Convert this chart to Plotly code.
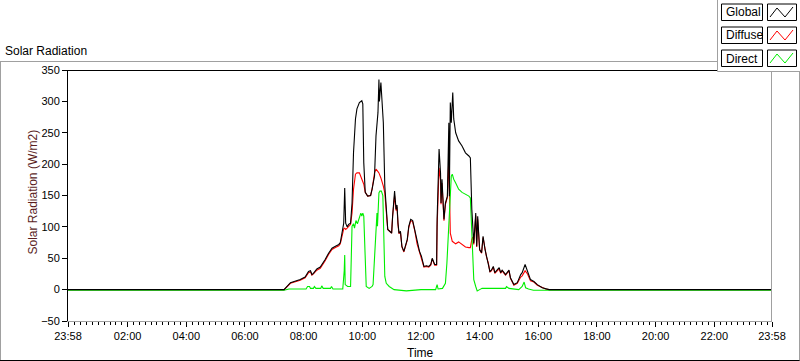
import plotly.graph_objects as go

DAY = "2024-01-02"
RANGE_START = "2024-01-01 23:58"
RANGE_END = "2024-01-02 23:58"

# ---------------- data (W/m2) ----------------
global_time = ["07:20", "07:33", "07:43", "07:53", "08:03", "08:10", "08:14", "08:17", "08:20", "08:27",
               "08:34", "08:41", "08:44", "08:51", "08:58", "09:05", "09:12", "09:15", "09:22", "09:24",
               "09:26", "09:29", "09:32", "09:36", "09:39", "09:42", "09:46", "09:49", "09:54", "09:59",
               "10:01", "10:03", "10:06", "10:11", "10:17", "10:20", "10:25", "10:28", "10:32", "10:34",
               "10:35", "10:38", "10:41", "10:43", "10:46", "10:49", "10:52", "10:56", "11:00", "11:02",
               "11:06", "11:09", "11:11", "11:13", "11:15", "11:18", "11:21", "11:25", "11:28", "11:32",
               "11:35", "11:39", "11:43", "11:47", "11:52", "11:57", "12:01", "12:06", "12:11", "12:16",
               "12:20", "12:23", "12:28", "12:32", "12:33", "12:37", "12:40", "12:41", "12:43", "12:47",
               "12:50", "12:54", "12:57", "12:58", "13:00", "13:02", "13:05", "13:07", "13:11", "13:17",
               "13:24", "13:31", "13:38", "13:41", "13:44", "13:46", "13:48", "13:52", "13:54", "13:56",
               "14:00", "14:04", "14:07", "14:11", "14:14", "14:18", "14:21", "14:24", "14:28", "14:31",
               "14:36", "14:40", "14:43", "14:46", "14:50", "14:53", "15:00", "15:03", "15:10", "15:17",
               "15:24", "15:27", "15:33", "15:38", "15:44", "15:51", "15:58", "16:08", "16:15", "16:22"]
global_value = [0, 11, 13, 16, 20, 29, 30, 24, 26, 33,
                36, 44, 48, 58, 66, 69, 72, 75, 106, 162,
                106, 100, 104, 106, 138, 218, 272, 288, 298, 301,
                296, 202, 155, 149, 150, 160, 181, 245, 282, 335,
                300, 330, 298, 266, 165, 128, 96, 93, 90, 117,
                157, 128, 135, 106, 90, 93, 69, 61, 69, 80,
                101, 112, 110, 96, 74, 61, 53, 37, 38, 37,
                40, 50, 40, 40, 112, 224, 186, 138, 176, 112,
                138, 149, 266, 149, 298, 266, 314, 272, 250, 237,
                229, 218, 213, 210, 128, 85, 74, 122, 69, 117,
                64, 59, 85, 64, 53, 43, 29, 31, 37, 27,
                31, 35, 27, 31, 27, 24, 31, 19, 8, 11,
                24, 27, 40, 29, 16, 13, 8, 3, 1, 0]

diffuse_time = ["07:20", "07:33", "07:43", "07:53", "08:03", "08:10", "08:14", "08:17", "08:20", "08:27",
                "08:34", "08:41", "08:44", "08:51", "08:58", "09:05", "09:12", "09:15", "09:22", "09:24",
                "09:26", "09:29", "09:32", "09:36", "09:39", "09:42", "09:46", "09:49", "09:54", "09:59",
                "10:01", "10:03", "10:06", "10:11", "10:17", "10:20", "10:25", "10:28", "10:32", "10:34",
                "10:38", "10:41", "10:43", "10:46", "10:49", "10:52", "10:56", "11:00", "11:02",
                "11:06", "11:09", "11:11", "11:13", "11:15", "11:18", "11:21", "11:25", "11:28", "11:32",
                "11:35", "11:39", "11:43", "11:47", "11:52", "11:57", "12:01", "12:06", "12:11", "12:16",
                "12:20", "12:23", "12:28", "12:32", "12:33", "12:37", "12:40", "12:41", "12:43", "12:47",
                "12:50", "12:54", "12:57", "12:58", "13:00", "13:04", "13:11", "13:17", "13:24", "13:31",
                "13:38", "13:41", "13:44", "13:46", "13:48", "13:52", "13:54", "13:56",
                "14:00", "14:04", "14:07", "14:11", "14:14", "14:18", "14:21", "14:24", "14:28", "14:31",
                "14:36", "14:40", "14:43", "14:46", "14:50", "14:53", "15:00", "15:03", "15:10", "15:17",
                "15:24", "15:27", "15:33", "15:38", "15:44", "15:51", "15:58", "16:08", "16:15", "16:22"]
diffuse_value = [0, 10, 12, 15, 19, 27, 28, 23, 25, 31,
                 34, 42, 46, 56, 64, 67, 70, 73, 97, 98,
                 96, 98, 100, 104, 122, 160, 184, 186, 186, 176,
                 172, 168, 155, 149, 150, 160, 186, 192, 188, 186,
                 178, 172, 165, 154, 128, 96, 93, 90, 117,
                 150, 126, 132, 104, 89, 92, 68, 60, 68, 79,
                 99, 110, 108, 95, 73, 60, 52, 36, 37, 36,
                 39, 49, 39, 39, 100, 194, 175, 136, 170, 110,
                 136, 147, 210, 139, 90, 77, 73, 76, 72, 68,
                 67, 67, 80, 84, 72, 118, 68, 112,
                 63, 58, 83, 63, 52, 42, 28, 30, 36, 26,
                 30, 33, 26, 30, 26, 23, 30, 18, 7, 10,
                 20, 22, 30, 25, 14, 12, 7, 3, 1, 0]

direct_time = ["07:20", "07:30", "08:05", "08:08", "08:12", "08:14", "08:20", "08:22", "08:25", "08:35",
               "08:37", "08:40", "08:55", "08:57", "09:00", "09:20", "09:23", "09:24", "09:25", "09:30",
               "09:36", "09:39", "09:42", "09:44", "09:47", "09:50", "09:54", "09:57", "09:59", "10:01",
               "10:03", "10:06", "10:08", "10:14", "10:20", "10:22", "10:25", "10:28", "10:30", "10:31",
               "10:34", "10:36", "10:39", "10:42", "10:44", "10:46", "10:49", "10:55", "11:05", "11:30",
               "12:00", "12:30", "12:33", "12:35", "12:44", "12:50", "12:53", "12:55", "12:58", "13:00",
               "13:02", "13:04", "13:07", "13:11", "13:17", "13:24", "13:31", "13:38", "13:41", "13:44",
               "13:46", "13:48", "13:52", "13:55", "14:00", "14:05", "14:53", "14:55", "15:00", "15:20",
               "15:27", "15:31", "15:34", "15:40", "15:50"]
direct_value = [-1, 1, 1, 5, 5, 2, 2, 5, 2, 2,
                6, 2, 2, 5, 1, 1, 30, 55, 8, 5,
                5, 101, 105, 98, 110, 105, 117, 122, 117, 122,
                117, 43, 5, 2, 5, 8, 48, 75, 122, 101,
                154, 157, 157, 150, 64, 21, 10, 5, 0, -2,
                0, 0, 8, 1, 2, 10, 42, 74, 106, 138,
                181, 184, 176, 170, 160, 155, 152, 149, 146, 85,
                32, 16, 5, -2, 0, 2, 2, 5, 2, 0,
                5, 12, 3, 1, -1]

night_value = {"Global": 0, "Diffuse": 0, "Direct": -1}

tick_labels = ["23:58", "02:00", "04:00", "06:00", "08:00", "10:00", "12:00",
               "14:00", "16:00", "18:00", "20:00", "22:00", "23:58"]
y_ticks = [-50, 0, 50, 100, 150, 200, 250, 300, 350]

series_colors = {"Global": "#000000", "Diffuse": "#ff0000", "Direct": "#00ee00"}


def stamps(times):
    return [RANGE_START] + [f"{DAY} {t}" for t in times] + [RANGE_END]


def full(name, values):
    return [night_value[name]] + list(values) + [night_value[name]]


tick_vals = [RANGE_START] + [f"{DAY} {t}" for t in tick_labels[1:-1]] + [RANGE_END]

fig = go.Figure()
# draw order: Diffuse, Direct, Global (global on top)
for name, t, v in [("Diffuse", diffuse_time, diffuse_value),
                   ("Direct", direct_time, direct_value),
                   ("Global", global_time, global_value)]:
    fig.add_trace(go.Scatter(x=stamps(t), y=full(name, v), mode="lines", name=name,
                             line=dict(color=series_colors[name], width=1.1),
                             showlegend=False))

# ------------- geometry helpers (pixel -> paper) -------------
W, H = 800, 361
L, R, T, B = 68, 28, 70, 40
PW, PH = W - L - R, H - T - B


def px(x):
    return (x - L) / PW


def py(y):
    return (H - B - y) / PH


shapes = []


def line(x0, y0, x1, y1, color, width=1):
    shapes.append(dict(type="line", xref="paper", yref="paper",
                       x0=px(x0), y0=py(y0), x1=px(x1), y1=py(y1),
                       line=dict(color=color, width=width), layer="above"))


def rect(x0, y0, x1, y1, line_color, fill="#ffffff"):
    shapes.append(dict(type="rect", xref="paper", yref="paper",
                       x0=px(x0), y0=py(y0), x1=px(x1), y1=py(y1),
                       line=dict(color=line_color, width=1), fillcolor=fill, layer="above"))


# panel frame
line(0, 61.5, 718, 61.5, "#a0a0a0")
line(0.5, 61.5, 0.5, 360.5, "#a0a0a0")
line(0, 360.5, 800, 360.5, "#000000")
line(799.5, 71.5, 799.5, 360.5, "#a0a0a0")
# plot frame (top black, right gray)
line(68, 70.5, 772, 70.5, "#000000")
line(771.5, 70.5, 771.5, 321, "#a0a0a0")

# legend
rect(717.5, -2, 802, 71.5, "#a0a0a0")
legend_names = ["Global", "Diffuse", "Direct"]
annotations = []
for i, name in enumerate(legend_names):
    top = 4 + i * 23
    rect(721.5, top, 762.5, top + 16.5, "#000000")
    rect(767.5, top, 796.5, top + 16.5, "#000000")
    pts = [(770, top + 13), (777, top + 4), (785, top + 13), (793, top + 3)]
    path = "M " + " L ".join(f"{px(a)},{py(b)}" for a, b in pts)
    shapes.append(dict(type="path", xref="paper", yref="paper", path=path,
                       line=dict(color=series_colors[name], width=1), layer="above"))
    annotations.append(dict(text=name, xref="paper", yref="paper", x=px(724), y=py(top + 8.5),
                            xanchor="left", yanchor="middle", showarrow=False,
                            font=dict(size=12, color="#000000")))

annotations.append(dict(text="Solar Radiation", xref="paper", yref="paper", x=px(3), y=py(51),
                        xanchor="left", yanchor="middle", showarrow=False,
                        font=dict(size=12, color="#000000")))
annotations.append(dict(text="Solar Radiation (W/m2)", xref="paper", yref="paper", x=px(32.5),
                        y=py(192), xanchor="center", yanchor="middle", textangle=-90,
                        showarrow=False, font=dict(size=12, color="#5a1e1e")))
annotations.append(dict(text="Time", xref="paper", yref="paper", x=px(420), y=py(353),
                        xanchor="center", yanchor="middle", showarrow=False,
                        font=dict(size=12, color="#000000")))

fig.update_layout(
    width=W, height=H,
    margin=dict(l=L, r=R, t=T, b=B, pad=0),
    paper_bgcolor="#ffffff", plot_bgcolor="#ffffff",
    font=dict(family="Liberation Sans", size=11, color="#000000"),
    shapes=shapes, annotations=annotations,
    xaxis=dict(type="date", range=[RANGE_START, RANGE_END], tickmode="array",
               tickvals=tick_vals, ticktext=tick_labels, ticks="outside", ticklen=5,
               tickcolor="#000000", tickwidth=1, showgrid=False, zeroline=False,
               showline=True, linecolor="#a0a0a0", linewidth=1,
               tickfont=dict(size=11, color="#000000"),
               minor=dict(ticks="outside", ticklen=3, tickcolor="#000000",
                          dtick=12 * 60 * 1000, tick0=f"{DAY} 00:00", showgrid=False)),
    yaxis=dict(range=[-50, 350], tickmode="array", tickvals=y_ticks, ticks="outside",
               ticklen=5, tickcolor="#000000", showgrid=False, zeroline=False,
               showline=True, linecolor="#000000", linewidth=1,
               tickfont=dict(size=11, color="#000000")),
)

fig.write_html("out.html", config={"displayModeBar": False},
               post_script="document.body.style.margin='0px';document.body.style.padding='0px';")
